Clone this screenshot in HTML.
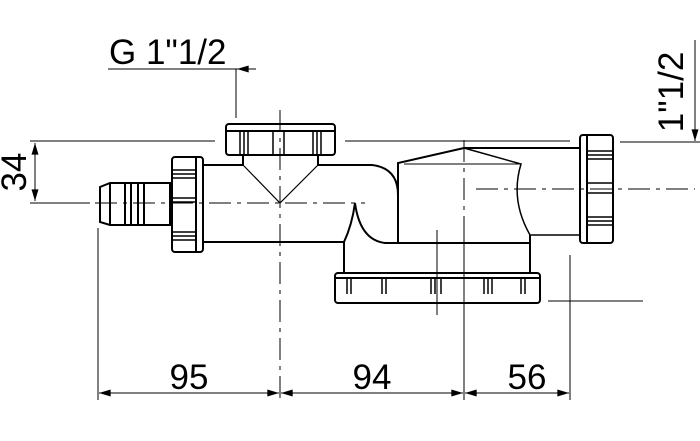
<!DOCTYPE html>
<html><head><style>html,body{margin:0;padding:0;background:#fff}svg{display:block}</style></head><body>
<svg width="700" height="441" viewBox="0 0 700 441" xmlns="http://www.w3.org/2000/svg" font-family="Liberation Sans, sans-serif">
<defs>
<marker id="a" viewBox="0 0 10 6" refX="10" refY="3" markerWidth="14" markerHeight="7" markerUnits="userSpaceOnUse" orient="auto-start-reverse"><path d="M0,0 L10,3 L0,6 z" fill="#000"/></marker>
</defs>
<g stroke="#000" fill="none">
<g stroke-width="1">
<line x1="30" y1="141" x2="215" y2="141"/>
<line x1="345" y1="141" x2="570" y2="141"/>
<line x1="620" y1="142" x2="700" y2="142"/>
<line x1="30" y1="203" x2="90" y2="203"/>
<line x1="35" y1="143" x2="35" y2="201" marker-start="url(#a)" marker-end="url(#a)"/>
<line x1="108" y1="69" x2="237" y2="69"/>
<line x1="256" y1="69" x2="237" y2="69" marker-end="url(#a)"/>
<line x1="236" y1="69" x2="236" y2="118"/>
<line x1="695" y1="40" x2="695" y2="141" marker-end="url(#a)"/>
<line x1="98" y1="228" x2="98" y2="400"/>
<line x1="464" y1="228" x2="464" y2="400"/>
<line x1="570" y1="255" x2="570" y2="400"/>
<line x1="548" y1="301" x2="643" y2="301"/>
<line x1="437" y1="230" x2="437" y2="315"/>
<line x1="99" y1="393" x2="279" y2="393" marker-start="url(#a)" marker-end="url(#a)"/>
<line x1="281" y1="393" x2="463" y2="393" marker-start="url(#a)" marker-end="url(#a)"/>
<line x1="465" y1="393" x2="569" y2="393" marker-start="url(#a)" marker-end="url(#a)"/>
<line x1="280" y1="110" x2="280" y2="400" stroke-dasharray="22,6,4,6"/>
<line x1="464" y1="140" x2="464" y2="228" stroke-dasharray="22,6,4,6"/>
<line x1="95" y1="203" x2="365" y2="203" stroke-dasharray="22,6,4,6"/>
<line x1="476" y1="189" x2="695" y2="189" stroke-dasharray="22,6,4,6"/>
</g>
<g stroke-width="2">
<path d="M100,187 L110,183 L170,183 L170,225 L110,225 L100,222 Z"/>
<line x1="110" y1="183" x2="110" y2="225"/><line x1="125" y1="183" x2="125" y2="225"/><line x1="131" y1="183" x2="131" y2="225"/><line x1="138" y1="183" x2="138" y2="225"/><line x1="144" y1="183" x2="144" y2="225"/>
<rect x="172" y="157" width="31" height="95" rx="3"/>
<line x1="196" y1="157" x2="196" y2="252"/>
<g stroke-width="1.5"><line x1="173" y1="170" x2="195" y2="170"/><line x1="173" y1="174" x2="195" y2="174"/><line x1="173" y1="178" x2="195" y2="178"/><line x1="173" y1="198" x2="195" y2="198"/><line x1="173" y1="202" x2="195" y2="202"/><line x1="173" y1="232" x2="195" y2="232"/><line x1="173" y1="236" x2="195" y2="236"/><line x1="173" y1="240" x2="195" y2="240"/></g>
<path d="M203,165 L243,165 L243,155 M318,155 L318,165 L372,165 Q398,168 398,195 L398,243"/>
<path d="M203,242 L344,242 L344,273"/>
<path d="M243,165 L280,203 L318,165" stroke-width="1.2"/>
<path d="M344,242 Q352,225 355,203 Q360,240 385,243 L530,243" />
<rect x="226" y="124" width="109" height="31" rx="3"/>
<line x1="226" y1="131" x2="335" y2="131"/>
<g stroke-width="1.5"><line x1="240" y1="131" x2="240" y2="155"/><line x1="244" y1="131" x2="244" y2="155"/><line x1="248" y1="131" x2="248" y2="155"/><line x1="273" y1="131" x2="273" y2="155"/><line x1="284" y1="131" x2="284" y2="155"/><line x1="313" y1="131" x2="313" y2="155"/><line x1="317" y1="131" x2="317" y2="155"/><line x1="321" y1="131" x2="321" y2="155"/></g>
<path d="M398,243 L398,163 L464,148 L580,148"/>
<path d="M404,164 L521,164" stroke-width="1"/>
<path d="M464,148 L521,164 Q510,200 530,235 L580,235" stroke-width="1.5"/>
<line x1="530" y1="235" x2="530" y2="273"/>
<rect x="580" y="135" width="33" height="108" rx="3"/>
<line x1="587" y1="135" x2="587" y2="243"/>
<g stroke-width="1.5"><line x1="588" y1="151" x2="612" y2="151"/><line x1="588" y1="155" x2="612" y2="155"/><line x1="588" y1="159" x2="612" y2="159"/><line x1="588" y1="183" x2="612" y2="183"/><line x1="588" y1="193" x2="612" y2="193"/><line x1="588" y1="217" x2="612" y2="217"/><line x1="588" y1="221" x2="612" y2="221"/><line x1="588" y1="225" x2="612" y2="225"/></g>
<rect x="335" y="273" width="205" height="30" rx="3"/>
<line x1="335" y1="278" x2="540" y2="278"/>
<g stroke-width="1.5">
<line x1="347" y1="279" x2="347" y2="294"/><line x1="351" y1="279" x2="351" y2="294"/>
<line x1="382" y1="279" x2="382" y2="294"/><line x1="386" y1="279" x2="386" y2="294"/>
<line x1="431" y1="279" x2="431" y2="294"/><line x1="435" y1="279" x2="435" y2="294"/><line x1="441" y1="279" x2="441" y2="294"/>
<line x1="484" y1="279" x2="484" y2="294"/><line x1="488" y1="279" x2="488" y2="294"/><line x1="492" y1="279" x2="492" y2="294"/>
<line x1="521" y1="279" x2="521" y2="294"/><line x1="525" y1="279" x2="525" y2="294"/>
</g>
</g>
</g>
<g fill="#000" font-size="35">
<text x="109" y="64">G 1"1/2</text>
<text x="189" y="389" text-anchor="middle">95</text>
<text x="372" y="389" text-anchor="middle">94</text>
<text x="527" y="389" text-anchor="middle">56</text>
<text transform="translate(26,172) rotate(-90)" text-anchor="middle">34</text>
<text transform="translate(683,92) rotate(-90)" text-anchor="middle">1"1/2</text>
</g>
</svg>
</body></html>
